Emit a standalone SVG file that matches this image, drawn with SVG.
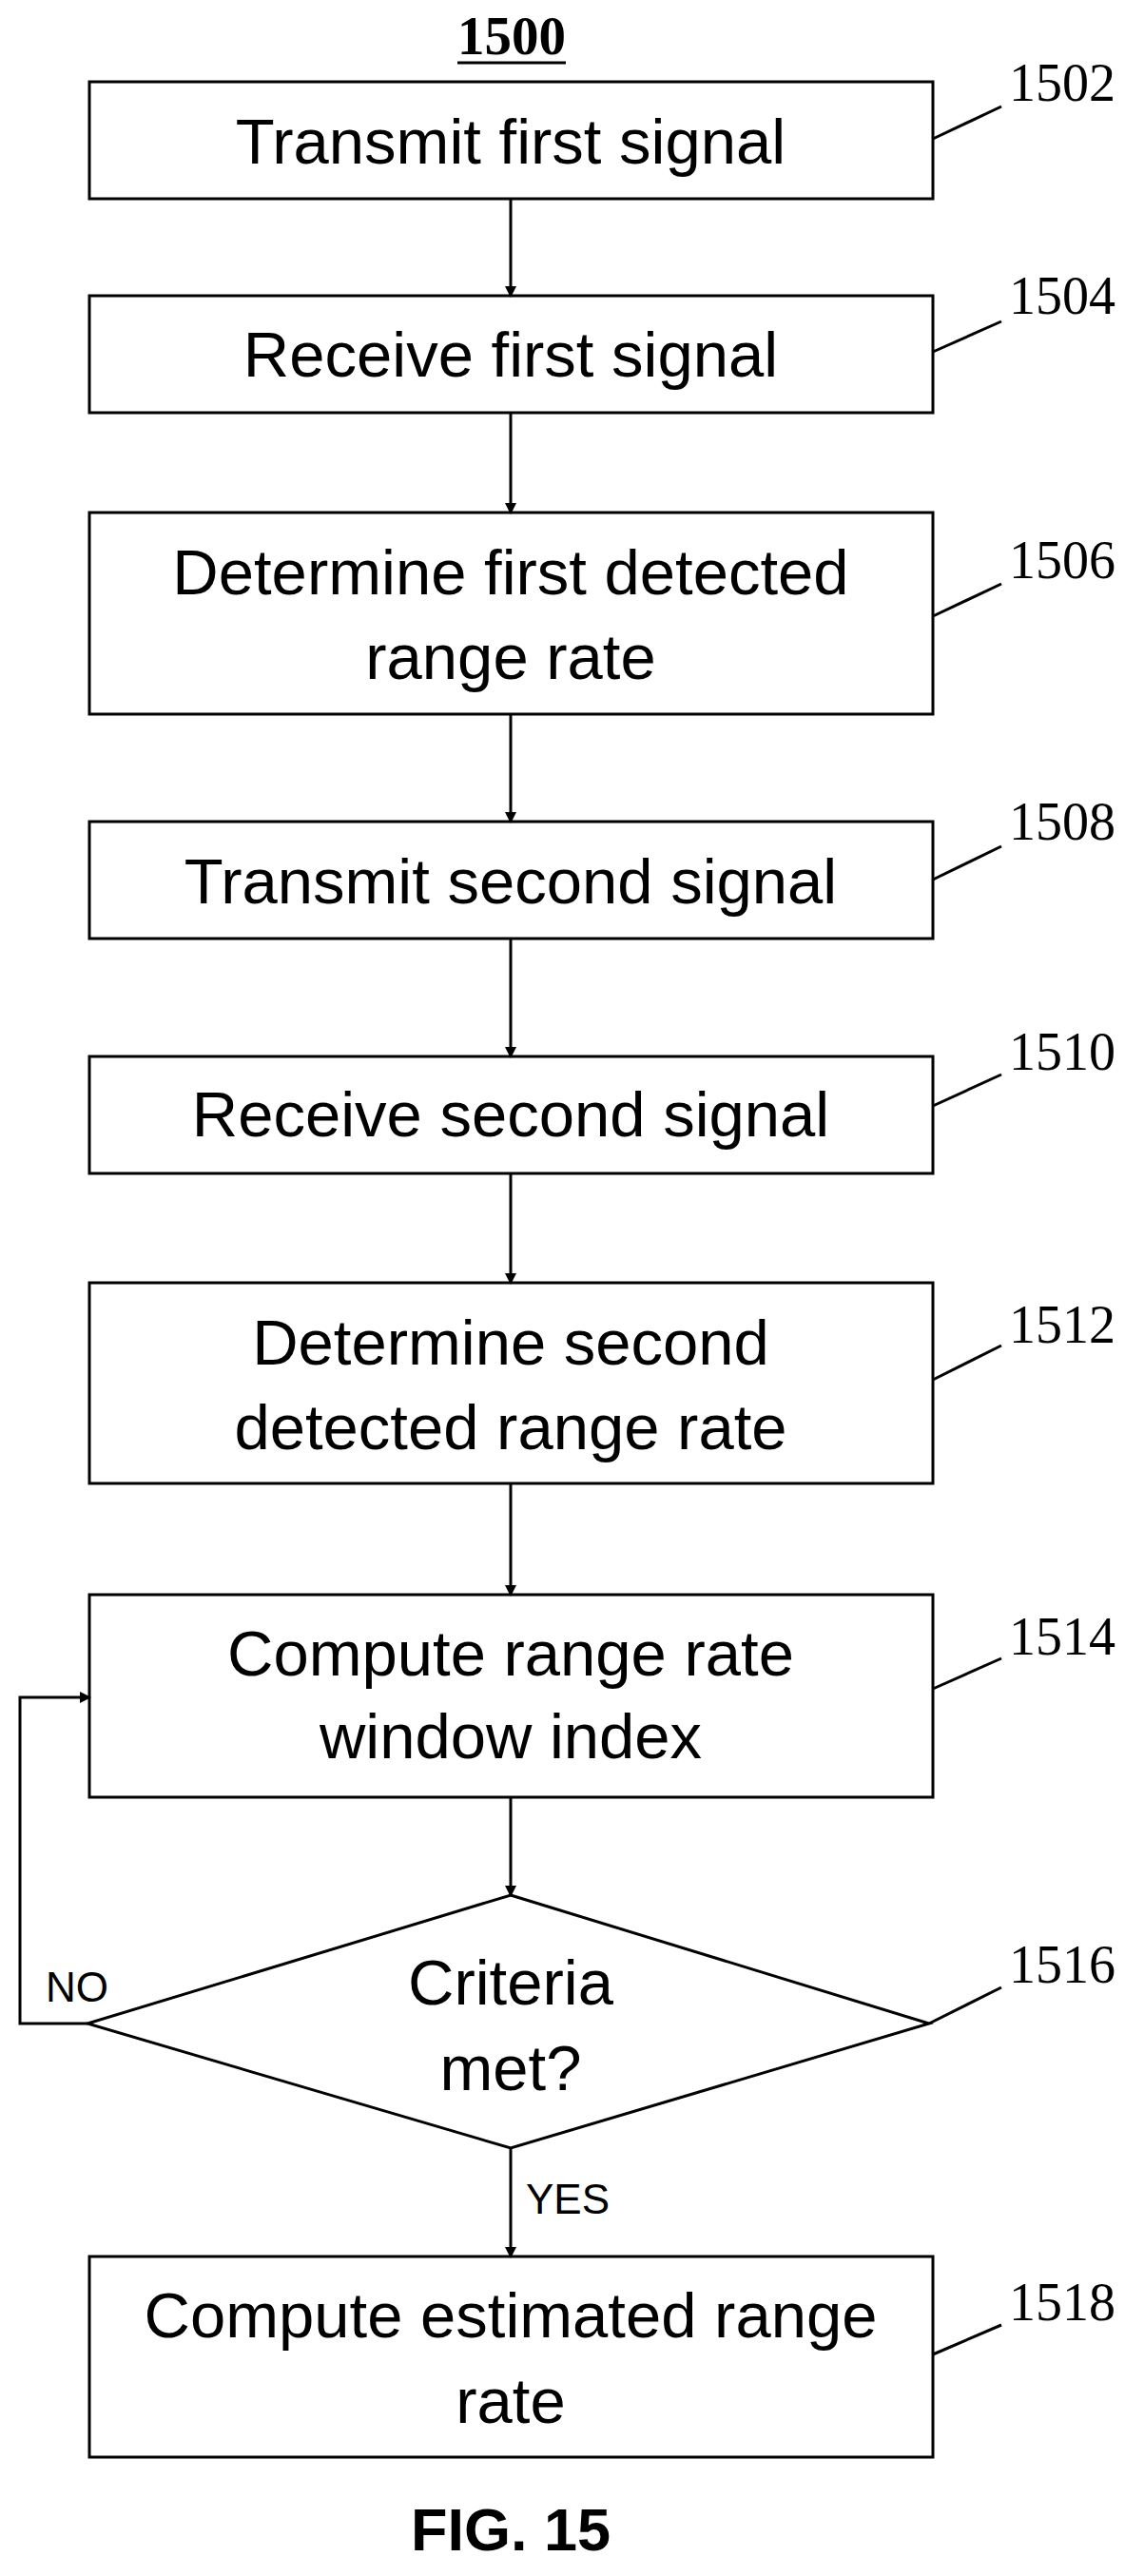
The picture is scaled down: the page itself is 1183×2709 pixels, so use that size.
<svg xmlns="http://www.w3.org/2000/svg" width="1183" height="2709" viewBox="0 0 1183 2709">
<style>
.b{fill:#fff;stroke:#000;stroke-width:3}
.t{font-family:"Liberation Sans",Arial,sans-serif;font-size:67px;text-anchor:middle;fill:#000}
.n{font-family:"Liberation Serif","Times New Roman",serif;font-size:56px;fill:#000}
.l{fill:none;stroke:#000;stroke-width:3}
.s{font-family:"Liberation Sans",Arial,sans-serif;font-size:44px;fill:#000}
</style>
<defs><marker id="a" markerWidth="12" markerHeight="12" refX="10" refY="6" orient="auto" markerUnits="userSpaceOnUse" viewBox="0 0 12 12"><path d="M0,0 L12,6 L0,12 z" fill="#000"/></marker></defs>
<rect width="1183" height="2709" fill="#fff"/>
<text x="538" y="57" font-family="Liberation Serif,serif" font-weight="bold" font-size="57" text-anchor="middle">1500</text>
<line x1="481" y1="66" x2="595" y2="66" stroke="#000" stroke-width="3"/>
<g id="n1502"><rect class="b" x="94" y="86" width="887" height="123"/><text class="t" x="537" y="172">Transmit first signal</text><path class="l" d="M981,146 L1053,112"/><text class="n" x="1061" y="106">1502</text></g>
<g id="n1504"><rect class="b" x="94" y="311" width="887" height="123"/><text class="t" x="537" y="396">Receive first signal</text><path class="l" d="M981,370 L1053,338"/><text class="n" x="1061" y="330">1504</text></g>
<g id="n1506"><rect class="b" x="94" y="539" width="887" height="212"/><text class="t" x="537" y="625">Determine first detected</text><text class="t" x="537" y="714">range rate</text><path class="l" d="M981,648 L1053,614"/><text class="n" x="1061" y="608">1506</text></g>
<g id="n1508"><rect class="b" x="94" y="864" width="887" height="123"/><text class="t" x="537" y="950">Transmit second signal</text><path class="l" d="M981,925 L1053,890"/><text class="n" x="1061" y="883">1508</text></g>
<g id="n1510"><rect class="b" x="94" y="1111" width="887" height="123"/><text class="t" x="537" y="1195">Receive second signal</text><path class="l" d="M981,1163 L1053,1130"/><text class="n" x="1061" y="1125">1510</text></g>
<g id="n1512"><rect class="b" x="94" y="1349" width="887" height="211"/><text class="t" x="537" y="1435">Determine second</text><text class="t" x="537" y="1524">detected range rate</text><path class="l" d="M981,1451 L1053,1415"/><text class="n" x="1061" y="1412">1512</text></g>
<g id="n1514"><rect class="b" x="94" y="1677" width="887" height="213"/><text class="t" x="537" y="1762">Compute range rate</text><text class="t" x="537" y="1849">window index</text><path class="l" d="M981,1776 L1053,1744"/><text class="n" x="1061" y="1740">1514</text></g>
<g id="n1516"><path class="b" d="M537,1993 L977,2128 L537,2259 L92,2128 z"/><text class="t" x="537" y="2108">Criteria</text><text class="t" x="537" y="2198">met?</text><path class="l" d="M977,2128 L1053,2090"/><text class="n" x="1061" y="2085">1516</text></g>
<g id="n1518"><rect class="b" x="94" y="2373" width="887" height="211"/><text class="t" x="537" y="2458">Compute estimated range</text><text class="t" x="537" y="2548">rate</text><path class="l" d="M981,2476 L1053,2445"/><text class="n" x="1061" y="2440">1518</text></g>
<g id="connectors" class="l" marker-end="url(#a)">
<path d="M537,209 V311"/><path d="M537,434 V539"/><path d="M537,751 V864"/><path d="M537,987 V1111"/><path d="M537,1234 V1349"/><path d="M537,1560 V1677"/><path d="M537,1890 V1993"/><path d="M537,2259 V2373"/><path d="M92,2128 H21 V1785 H94"/>
</g>
<text class="s" x="48" y="2105">NO</text>
<text class="s" x="553" y="2328">YES</text>
<text x="537" y="2682" font-family="Liberation Sans,Arial,sans-serif" font-weight="bold" font-size="63" text-anchor="middle">FIG. 15</text>
</svg>
